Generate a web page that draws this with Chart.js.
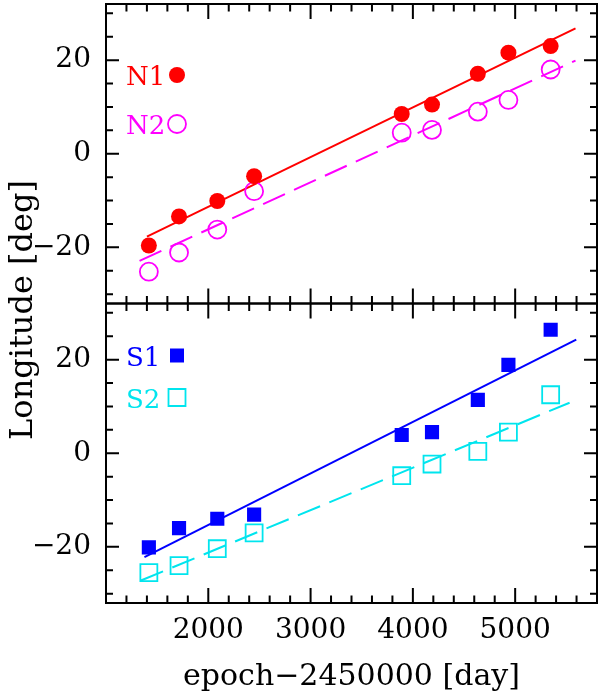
<!DOCTYPE html>
<html>
<head>
<meta charset="utf-8">
<title>Longitude vs epoch</title>
<script src="https://cdn.jsdelivr.net/npm/chart.js@4.4.0/dist/chart.umd.min.js"></script>
<style>
  body { margin: 0; background: #fff; }
  #wrap { position: relative; width: 600px; height: 697px; }
  #ytitle {
    position: absolute; left: -130px; top: 292px; width: 300px; height: 36px;
    line-height: 36px; text-align: center; white-space: nowrap;
    font: 32px 'DejaVu Serif', serif; color: #000;
    transform: rotate(-90deg);
  }
</style>
</head>
<body>
<div id="wrap">
  <canvas id="chart" width="600" height="697"></canvas>
  <div id="ytitle">Longitude [deg]</div>
</div>
<script>
'use strict';
// observation epochs (JD - 2450000)
const epochs = [1419, 1714, 2088, 2448, 3891, 4187, 4635, 4934, 5347];

// northern spots
const n1 = [-19.6, -13.4, -10.1, -4.8, 8.5, 10.5, 17.1, 21.6, 23.0];
const n2 = [-25.2, -21.1, -16.2, -8.0, 4.5, 5.1, 9.0, 11.5, 18.0];
// southern spots
const s1 = [-20.1, -16.0, -14.0, -13.1, 3.9, 4.5, 11.4, 18.9, 26.4];
const s2 = [-25.5, -24.0, -20.4, -17.0, -4.8, -2.3, 0.4, 4.5, 12.5];

const n1FitX = [1400, 5590];
const n1Fit = [-17.7, 26.8];
const n2FitX = [1328, 5590];
const n2Fit = [-22.9, 19.9];
const s1FitX = [1376, 5597];
const s1Fit = [-22.2, 24.3];
const s2FitX = [1341, 5532];
const s2Fit = [-27.2, 10.8];

const xTickLabels = [2000, 3000, 4000, 5000];
const yTickLabels = [-20, 0, 20];

const xMin = 1000, xMax = 5800, xMinorStep = 200;
const yMin = -32, yMax = 32, yMinorStep = 5;

const FONT = "'DejaVu Serif', serif";
const RED = '#ff0000', MAGENTA = '#ff00ff', BLUE = '#0000ff', CYAN = '#00e5ee';

function pairs(xs, ys) {
  return xs.map((x, i) => ({x: x, y: ys[i]}));
}

function pointSet(label, ys, axis, color, style, filled, radius) {
  return {
    label: label,
    data: pairs(epochs, ys),
    yAxisID: axis,
    showLine: false,
    pointStyle: style,
    pointRadius: radius,
    pointHoverRadius: radius,
    pointBackgroundColor: filled ? color : 'rgba(0,0,0,0)',
    pointBorderColor: color,
    pointBorderWidth: filled ? 0 : 1.8,
    order: 1
  };
}

function fitSet(label, xs, ys, axis, color, dashed) {
  return {
    label: label,
    data: pairs(xs, ys),
    yAxisID: axis,
    showLine: true,
    borderColor: color,
    borderWidth: 2,
    borderDash: dashed ? [24, 10] : [],
    pointRadius: 0,
    order: 2
  };
}

// legend entries drawn inside each panel
const legendItems = [
  {text: 'N1', color: RED, style: 'circle', filled: true, axis: 'yTop', dy: 71},
  {text: 'N2', color: MAGENTA, style: 'circle', filled: false, axis: 'yTop', dy: 120},
  {text: 'S1', color: BLUE, style: 'rect', filled: true, axis: 'yBot', dy: 52},
  {text: 'S2', color: CYAN, style: 'rect', filled: false, axis: 'yBot', dy: 94}
];

const framePlugin = {
  id: 'frame',
  afterDraw(chart) {
    const ctx = chart.ctx;
    const xs = chart.scales.x;
    const left = chart.chartArea.left;
    const right = chart.chartArea.right;
    ctx.save();
    ctx.strokeStyle = '#000';
    ctx.lineWidth = 2;
    ['yTop', 'yBot'].forEach(id => {
      const ys = chart.scales[id];
      const top = ys.top, bottom = ys.bottom;
      ctx.strokeRect(left, top, right - left, bottom - top);
      ctx.beginPath();
      for (let v = xMin + xMinorStep; v < xMax; v += xMinorStep) {
        const px = xs.getPixelForValue(v);
        const len = v % 1000 === 0 ? 15 : 7.5;
        ctx.moveTo(px, top);
        ctx.lineTo(px, top + len);
        ctx.moveTo(px, bottom);
        ctx.lineTo(px, bottom - len);
      }
      for (let v = -30; v <= 30; v += yMinorStep) {
        const py = ys.getPixelForValue(v);
        const len = yTickLabels.includes(v) ? 13 : 7;
        ctx.moveTo(left, py);
        ctx.lineTo(left + len, py);
        ctx.moveTo(right, py);
        ctx.lineTo(right - len, py);
      }
      ctx.stroke();
    });

    // legend
    ctx.font = '26px ' + FONT;
    ctx.textBaseline = 'alphabetic';
    ctx.textAlign = 'left';
    legendItems.forEach(item => {
      const ys = chart.scales[item.axis];
      const cy = ys.top + item.dy;
      ctx.fillStyle = item.color;
      ctx.fillText(item.text, left + 20, cy + 10);
      const cx = left + 71;
      ctx.beginPath();
      if (item.style === 'circle') {
        ctx.arc(cx, cy, item.filled ? 8 : 9, 0, Math.PI * 2);
      } else {
        const h = item.filled ? 7 : 8.5;
        ctx.rect(cx - h, cy - h, 2 * h, 2 * h);
      }
      if (item.filled) {
        ctx.fill();
      } else {
        ctx.strokeStyle = item.color;
        ctx.lineWidth = 1.8;
        ctx.stroke();
      }
    });
    ctx.restore();
  }
};

function noPad(scale) {
  scale.paddingTop = 0;
  scale.paddingBottom = 0;
  scale.paddingLeft = 0;
  scale.paddingRight = 0;
}

function yAxis() {
  return {
    type: 'linear',
    position: 'left',
    stack: 'panels',
    stackWeight: 1,
    min: yMin,
    max: yMax,
    afterBuildTicks: scale => {
      scale.ticks = yTickLabels.map(v => ({value: v}));
    },
    afterFit: scale => {
      scale.width = 106;
      noPad(scale);
    },
    grid: {display: false, drawTicks: false},
    border: {display: false},
    ticks: {
      padding: 15,
      color: '#000',
      font: {family: FONT, size: 28},
      callback: v => (v < 0 ? '\u2212' + Math.abs(v) : String(v))
    }
  };
}

const ctx = document.getElementById('chart').getContext('2d');
const chart = new Chart(ctx, {
  type: 'scatter',
  data: {
    datasets: [
      pointSet('N1', n1, 'yTop', RED, 'circle', true, 8),
      pointSet('N2', n2, 'yTop', MAGENTA, 'circle', false, 9),
      fitSet('N1 fit', n1FitX, n1Fit, 'yTop', RED, false),
      fitSet('N2 fit', n2FitX, n2Fit, 'yTop', MAGENTA, true),
      pointSet('S1', s1, 'yBot', BLUE, 'rect', true, 10),
      pointSet('S2', s2, 'yBot', CYAN, 'rect', false, 12),
      fitSet('S1 fit', s1FitX, s1Fit, 'yBot', BLUE, false),
      fitSet('S2 fit', s2FitX, s2Fit, 'yBot', CYAN, true)
    ]
  },
  options: {
    responsive: false,
    animation: false,
    layout: {autoPadding: false, padding: {top: 4, right: 3, bottom: 0, left: 0}},
    plugins: {
      legend: {display: false},
      tooltip: {enabled: false}
    },
    scales: {
      x: {
        type: 'linear',
        position: 'bottom',
        min: xMin,
        max: xMax,
        afterBuildTicks: scale => {
          scale.ticks = xTickLabels.map(v => ({value: v}));
        },
        afterFit: scale => {
          scale.height = 94;
          noPad(scale);
        },
        grid: {display: false, drawTicks: false},
        border: {display: false},
        ticks: {
          padding: 11,
          maxRotation: 0,
          color: '#000',
          font: {family: FONT, size: 28},
          callback: v => String(v)
        },
        title: {
          display: true,
          text: 'epoch\u22122450000 [day]',
          color: '#000',
          font: {family: FONT, size: 30},
          padding: {top: 0, bottom: 2}
        }
      },
      yBot: yAxis(),
      yTop: yAxis()
    }
  },
  plugins: [framePlugin]
});
</script>
</body>
</html>
